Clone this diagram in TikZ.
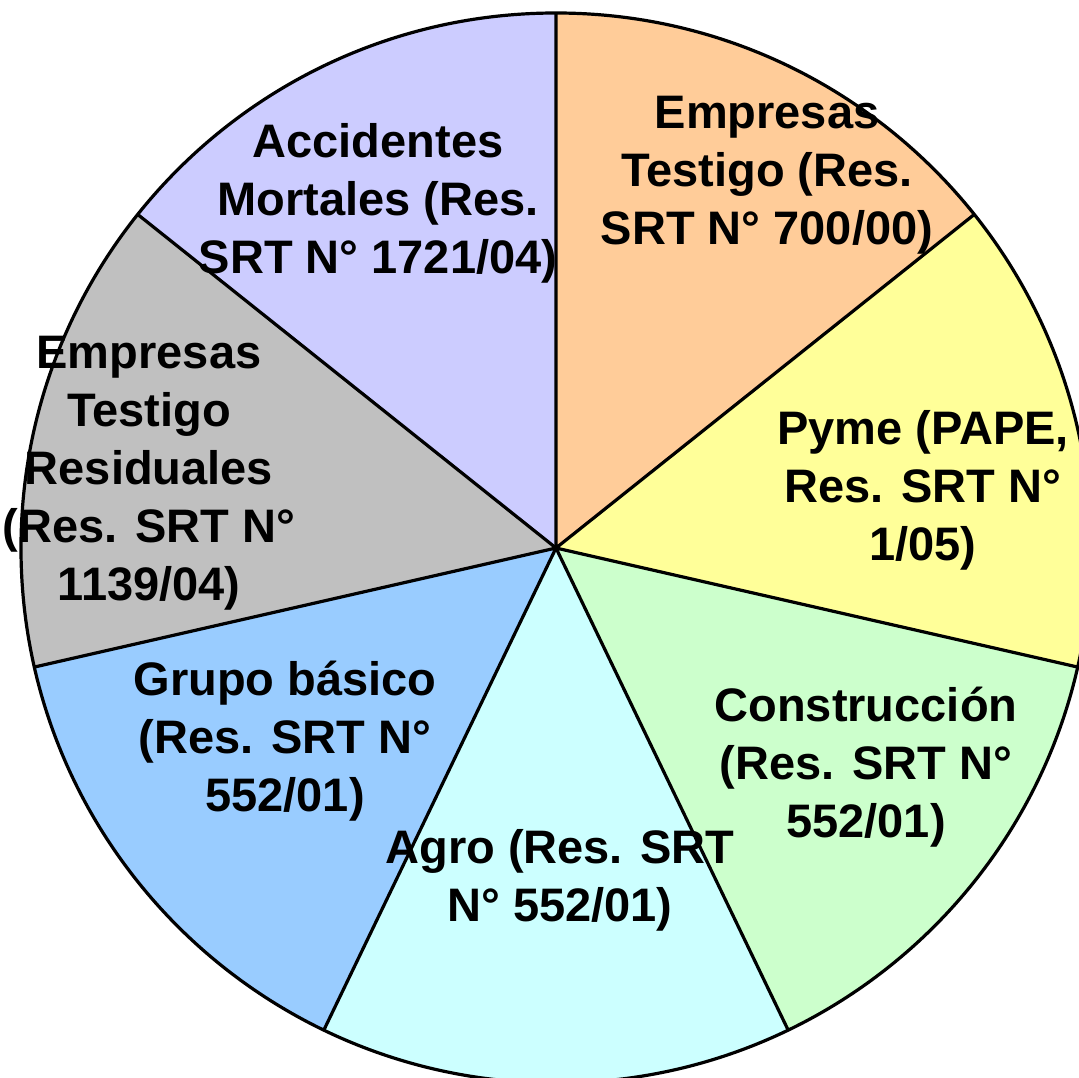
\documentclass[tikz,border=0pt]{standalone}
\usepackage{fontspec}
\setmainfont{Liberation Sans}
\usepackage{xcolor}
\definecolor{testigo}{HTML}{FFCC99}
\definecolor{pyme}{HTML}{FFFF99}
\definecolor{construccion}{HTML}{CCFFCC}
\definecolor{agro}{HTML}{CCFFFF}
\definecolor{basico}{HTML}{99CCFF}
\definecolor{residual}{HTML}{C0C0C0}
\definecolor{mortal}{HTML}{CCCCFF}

\begin{document}
\begin{tikzpicture}[x=0.5pt,y=0.5pt]
 	\tikzstyle{every node}+=[inner sep=0pt, align=center, font=\fontsize{23.5}{29}\selectfont\bfseries]
 	\tikzstyle{edge}=[black, line width=1.6pt, line join=round]
 	\useasboundingbox (-556,-529) rectangle (523,548);
 	\fill [testigo] (0,0) -- (90:535) arc (90:38.571:535) -- cycle;
 	\fill [pyme] (0,0) -- (38.571:535) arc (38.571:-12.857:535) -- cycle;
 	\fill [construccion] (0,0) -- (-12.857:535) arc (-12.857:-64.286:535) -- cycle;
 	\fill [agro] (0,0) -- (-64.286:535) arc (-64.286:-115.714:535) -- cycle;
 	\fill [basico] (0,0) -- (-115.714:535) arc (-115.714:-167.143:535) -- cycle;
 	\fill [residual] (0,0) -- (-167.143:535) arc (-167.143:-218.571:535) -- cycle;
 	\fill [mortal] (0,0) -- (141.429:535) arc (141.429:90:535) -- cycle;
 	\draw [edge] (0,0) circle (535);
 	\draw [edge] (90:535) -- (0,0) -- (38.571:535);
 	\draw [edge] (-12.857:535) -- (0,0) -- (-64.286:535);
 	\draw [edge] (-115.714:535) -- (0,0) -- (-167.143:535);
 	\draw [edge] (0,0) -- (141.429:535);
 	\draw (211,373) node (testigo) {Empresas\\Testigo (Res.\\SRT N° 700/00)};
 	\draw (367,58) node (pyme) {Pyme (PAPE,\\Res. SRT N°\\1/05)};
 	\draw (310,-219) node (construccion) {Construcción\\(Res. SRT N°\\552/01)};
 	\draw (4,-332) node (agro) {Agro (Res. SRT\\N° 552/01)};
 	\draw (-271,-193) node (basico) {Grupo básico\\(Res. SRT N°\\552/01)};
 	\draw (-407,75) node (residual) {Empresas\\Testigo\\Residuales\\(Res. SRT N°\\1139/04)};
 	\draw (-178,345) node (mortal) {Accidentes\\Mortales (Res.\\SRT N° 1721/04)};
\end{tikzpicture}
\end{document}
